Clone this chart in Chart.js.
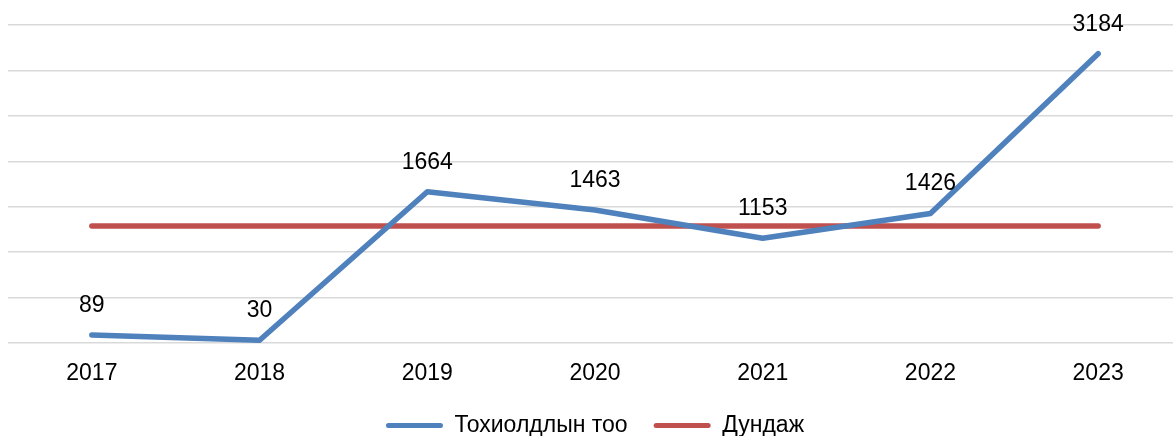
<!DOCTYPE html>
<html>
<head>
<meta charset="utf-8">
<script src="https://cdn.jsdelivr.net/npm/chart.js@4"></script>
<style>
  html, body { margin: 0; padding: 0; background: #fff; overflow: hidden; }
  #wrap { width: 1182px; height: 436px; }
</style>
</head>
<body>
<div id="wrap"><canvas id="chart" width="1182" height="436"></canvas></div>
<script>
// Data
const years = ['2017', '2018', '2019', '2020', '2021', '2022', '2023'];
const cases = [89, 30, 1664, 1463, 1153, 1426, 3184];
const average = [1287, 1287, 1287, 1287, 1287, 1287, 1287];
const seriesNames = ['Тохиолдлын тоо', 'Дундаж'];

const FONT = '"Liberation Sans", Arial, sans-serif';

// Simple value labels above the points of the first series
const valueLabels = {
    id: 'valueLabels',
    afterDatasetsDraw(chart) {
        const ctx = chart.ctx;
        const meta = chart.getDatasetMeta(0);
        ctx.save();
        ctx.font = '23px ' + FONT;
        ctx.fillStyle = '#000';
        ctx.textAlign = 'center';
        ctx.textBaseline = 'middle';
        meta.data.forEach((pt, i) => {
            ctx.fillText(String(cases[i]), pt.x, pt.y - 29.5);
        });
        ctx.restore();
    }
};

new Chart(document.getElementById('chart'), {
    type: 'line',
    data: {
        labels: years,
        datasets: [
            {
                label: seriesNames[0],
                data: cases,
                borderColor: '#4F81BD',
                backgroundColor: '#4F81BD',
                borderWidth: 5.5,
                borderCapStyle: 'round',
                borderJoinStyle: 'round',
                pointRadius: 0,
                tension: 0
            },
            {
                label: seriesNames[1],
                data: average,
                borderColor: '#C0504D',
                backgroundColor: '#C0504D',
                borderWidth: 5.5,
                borderCapStyle: 'round',
                pointRadius: 0,
                tension: 0
            }
        ]
    },
    options: {
        responsive: false,
        animation: false,
        layout: { padding: { left: 8, right: 0, top: 25, bottom: 0 } },
        scales: {
            x: {
                offset: true,
                grid: { display: false, drawTicks: false },
                border: { display: false },
                ticks: { color: '#000', padding: 17, font: { family: FONT, size: 23 } },
                afterFit(scale) { scale.height = 45; }
            },
            y: {
                min: 0,
                max: 3500,
                ticks: { display: false, stepSize: 500 },
                grid: { color: '#D9D9D9', lineWidth: 1.5, drawTicks: false },
                border: { display: false }
            }
        },
        plugins: {
            legend: {
                position: 'bottom',
                maxHeight: 48,
                labels: {
                    color: '#000',
                    font: { family: FONT, size: 23 },
                    boxWidth: 57,
                    boxHeight: 5,
                    padding: 26,
                    generateLabels(chart) {
                        return chart.data.datasets.map((ds, i) => ({
                            text: ds.label,
                            fillStyle: ds.borderColor,
                            strokeStyle: ds.borderColor,
                            lineWidth: 0,
                            borderRadius: 2.5,
                            datasetIndex: i,
                            hidden: false
                        }));
                    },
                    useBorderRadius: true
                }
            },
            tooltip: { enabled: false }
        }
    },
    plugins: [valueLabels]
});
</script>
</body>
</html>
